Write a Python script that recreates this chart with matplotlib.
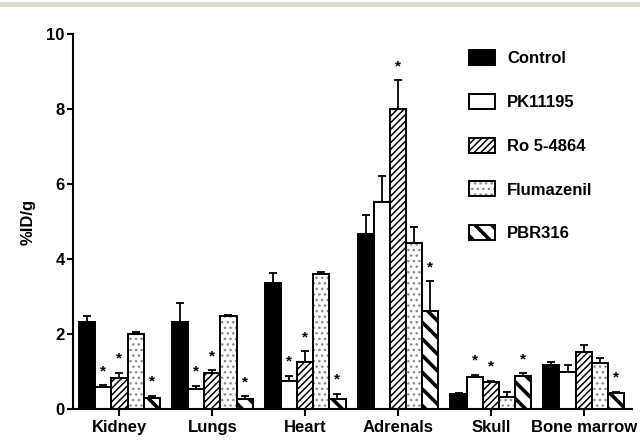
import numpy as np
import matplotlib
matplotlib.use("Agg")
from matplotlib import pyplot as plt
from matplotlib.patches import Rectangle

plt.rcParams['font.family'] = ['Liberation Sans', 'DejaVu Sans']
plt.rcParams['font.weight'] = 'bold'

# Tissue uptake per treatment (mean and top of error bar, %ID/g)
tissues = ["Kidney", "Lungs", "Heart", "Adrenals", "Skull", "Bone marrow"]
groups = ["Control", "PK11195", "Ro 5-4864", "Flumazenil", "PBR316"]

control = [2.33, 2.33, 3.37, 4.66, 0.40, 1.17]
control_err = [2.48, 2.83, 3.63, 5.17, 0.44, 1.26]
pk11195 = [0.59, 0.54, 0.75, 5.53, 0.85, 0.98]
pk11195_err = [0.64, 0.62, 0.89, 6.21, 0.91, 1.17]
ro54864 = [0.83, 0.95, 1.26, 7.99, 0.71, 1.53]
ro54864_err = [0.97, 1.04, 1.54, 8.77, 0.76, 1.72]
flumazenil = [2.00, 2.49, 3.60, 4.42, 0.33, 1.24]
flumazenil_err = [2.05, 2.52, 3.65, 4.86, 0.45, 1.35]
pbr316 = [0.30, 0.26, 0.28, 2.62, 0.89, 0.42]
pbr316_err = [0.35, 0.34, 0.41, 3.41, 0.95, 0.46]

# significance markers (1 = asterisk above the bar)
sig_pk11195 = [1, 1, 1, 0, 1, 0]
sig_ro54864 = [1, 1, 1, 1, 1, 0]
sig_flumazenil = [0, 0, 0, 0, 0, 0]
sig_pbr316 = [1, 1, 1, 1, 1, 1]
sig_control = [0, 0, 0, 0, 0, 0]

means = [control, pk11195, ro54864, flumazenil, pbr316]
tops = [control_err, pk11195_err, ro54864_err, flumazenil_err, pbr316_err]
sigs = [sig_control, sig_pk11195, sig_ro54864, sig_flumazenil, sig_pbr316]
faces = ["black", "white", "white", "white", "white"]
hatches = [None, None, "/////", "...", "\\\\"]
hatch_lw = [1.0, 1.0, 1.1, 1.0, 2.6]
hatch_col = ["black", "black", "black", "#8a8a8a", "black"]


def style_hatch(patch, i):
    if hasattr(patch, "set_hatch_linewidth"):
        patch.set_hatch_linewidth(hatch_lw[i])
    patch._hatch_color = matplotlib.colors.to_rgba(hatch_col[i])


fig = plt.figure(figsize=(6.4, 4.4), dpi=100)
fig.patches.append(Rectangle((0, 433 / 440), 1, 5 / 440, transform=fig.transFigure,
                             facecolor="#e0dccb", edgecolor="none", zorder=0))
ax = fig.add_axes([73 / 640, 31 / 440, 559 / 640, 375 / 440])

x = np.arange(len(tissues))
width = 0.174
for i in range(len(groups)):
    pos = x + (i - 2) * width
    vals = np.array(means[i])
    up = np.array(tops[i]) - vals
    bars = ax.bar(pos, vals, width, color=faces[i], edgecolor="black",
                  linewidth=1.4, hatch=hatches[i], label=groups[i], zorder=2)
    for b in bars:
        style_hatch(b, i)
    ax.errorbar(pos, vals, yerr=[np.zeros_like(up), up], fmt="none",
                ecolor="black", elinewidth=1.3, capsize=2.8, capthick=1.3, zorder=1)
    for j in range(len(tissues)):
        if sigs[i][j]:
            ax.annotate("*", (pos[j], tops[i][j]), xytext=(0, 5),
                        textcoords="offset points", ha="center", va="bottom",
                        fontsize=11, fontweight="bold")

ax.set_xlim(-0.5, 5.52)
ax.set_ylim(0, 10)
ax.set_yticks([0, 2, 4, 6, 8, 10])
ax.set_xticks(x)
ax.set_xticklabels(tissues, fontsize=12, fontweight="bold")
ax.tick_params(axis="y", labelsize=12, width=1.5, length=4, pad=2)
ax.tick_params(axis="x", width=1.5, length=5, pad=3)
ax.set_ylabel("%ID/g", fontsize=12, fontweight="bold", labelpad=8)
for s in ["top", "right"]:
    ax.spines[s].set_visible(False)
for s in ["left", "bottom"]:
    ax.spines[s].set_linewidth(1.5)

leg = ax.legend(loc="upper left", bbox_to_anchor=(469 / 640, 1 - 50 / 440),
                bbox_transform=fig.transFigure, frameon=False, borderpad=0,
                borderaxespad=0, handlelength=1.55, handleheight=1.0,
                handletextpad=0.75, labelspacing=1.66,
                prop={"weight": "bold", "size": 12})
for i, h in enumerate(leg.legend_handles):
    style_hatch(h, i)

fig.savefig("out.png", dpi=100)
